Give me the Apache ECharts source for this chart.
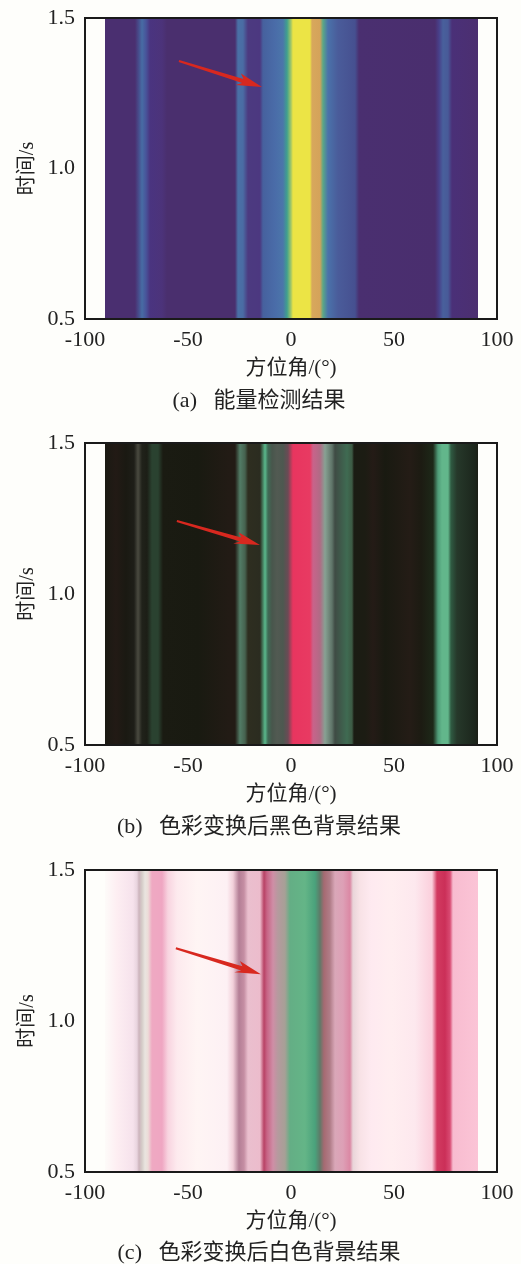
<!DOCTYPE html>
<html><head><meta charset="utf-8">
<style>html,body{margin:0;padding:0;background:#fefefb}#c{width:521px;height:1264px}</style>
<script src="https://cdn.jsdelivr.net/npm/echarts@6/dist/echarts.min.js"></script>
</head><body><div id="c"></div>
<script>
const xTicks = [-100, -50, 0, 50, 100];
const yTicks = [0.5, 1.0, 1.5];
const timeRange = [0.5, 1.5];
const xTitle = '方位角/(°)';
const yTitle = '时间/s';
const captions = ['(a)   能量检测结果', '(b)   色彩变换后黑色背景结果', '(c)   色彩变换后白色背景结果'];

const azimuthA = [-90.3,-75.7,-74,-72.5,-70.5,-68.4,-62.8,-60,-27.2,-25.5,-23.5,-20.9,-15,-13.6,-8,-3.9,-2.1,-0.1,1,9.2,10,14,15.5,18,22.8,31,33,70,72,73.8,76,78,90.6];
const azimuthB = [-90.3,-85,-80,-76,-74.1,-72.5,-70,-67.5,-64.6,-62,-45,-30,-27,-24.7,-22.3,-21,-15,-12.6,-11.2,-9,-7,-3.9,-1.4,1,9.2,10.7,14,16.6,19.7,21.3,27,29.5,30.6,36,40,45.6,58,63,69,71.5,73.3,76.2,77.8,80.5,89.3,90.6];
const azimuthC = [-90.3,-84.6,-76.5,-74.6,-73.6,-72.5,-70.8,-69.3,-67.6,-62.8,-59.5,-55.5,-45.8,-31.2,-28,-25.2,-22.8,-20.8,-15,-13,-11.5,-8.7,-6.3,-3,-0.5,6.8,11.6,14,16,19,21.3,25.2,28.6,30.2,33.5,39,49,60,68.3,71,74.9,77.3,78.8,90.2,90.6];

const paletteA = ['#4a2f70','#4a2f70','#47508f','#476ca4','#48549a','#4a3480','#4c337a','#4a2f6e','#4a2f6e','#4a70a6','#4a6ca4','#4c3a80','#4c3880','#46619e','#4a6ca8','#4b76aa','#3fa08e','#a4c866','#ece445','#ece445','#d8a85c','#d4a35a','#5aa886','#4a72aa','#4a5c9a','#465090','#4a2f70','#4a2e6e','#48408a','#48609c','#485a98','#4a3078','#4c2f70'];
const paletteB = ['#1a1912','#221a15','#1a1912','#1e1e18','#4a4a40','#20221a','#1c1e16','#2a4230','#2a4230','#1a1b12','#191a11','#221b15','#221b15','#527c66','#46624f','#2e2e20','#2b2c20','#5ab98c','#3f6b55','#48564c','#525a52','#4d5850','#6b4b55','#e8355f','#e83a62','#c9638a','#b06b85','#87a193','#5f7468','#3f4b44','#3f6b52','#3d5a44','#1b1c13','#1c1c13','#241b16','#191a11','#241c16','#1c1b12','#1d2818','#4f9c78','#62b68b','#62b68b','#2f5a42','#26382a','#1c261c','#1c1e16'];
const paletteC = ['#fdfbf9','#fdeef2','#f6e2ec','#e8d4de','#cdb4bd','#d5ccc8','#e9e4df','#ecdcd8','#efa9c2','#efa6c2','#f8d4e0','#fdeaee','#fff5f4','#fdf0f4','#f2d0da','#b47f96','#c58ea3','#eabfce','#ecbccc','#b84265','#c76485','#cf8ea6','#b59a9e','#a6a096','#64ae85','#64b587','#4aa27c','#5f7a68','#a56a72','#b07d88','#d9a7b8','#dda0b6','#db88a4','#e9d5d9','#f8e2e6','#feeaf0','#ffeef0','#fde8ee','#fbcfdc','#d23a60','#cb2f58','#d84a72','#f8bcd0','#fbc4d6','#fbc4d6'];

const arrowA = [[-54.4, 1.357], [-14.1, 1.271]];
const arrowB = [[-55.4, 1.242], [-15.1, 1.162]];
const arrowC = [[-55.9, 1.241], [-14.6, 1.155]];

const panels = [
  {az: azimuthA, pal: paletteA, arrow: arrowA, top: 18, height: 301, capTop: 385, capSize: 22},
  {az: azimuthB, pal: paletteB, arrow: arrowB, top: 443, height: 302, capTop: 811, capSize: 22},
  {az: azimuthC, pal: paletteC, arrow: arrowC, top: 870, height: 302, capTop: 1237, capSize: 22}
];
const FONT = '"Liberation Serif","Noto Sans CJK SC",serif';
const INK = '#222';

function bandSeries(p, i) {
  const segs = p.az.slice(0, -1).map((a, k) => [a, p.az[k + 1], k]);
  return {
    type: 'custom', xAxisIndex: i, yAxisIndex: i, silent: true, clip: false, z: 2,
    data: segs,
    encode: {x: [0, 1]},
    renderItem(params, api) {
      const k = api.value(2);
      const a = api.coord([api.value(0), timeRange[1]]);
      const b = api.coord([api.value(1), timeRange[0]]);
      const x0 = Math.round(a[0]), x1 = Math.round(b[0]);
      return {
        type: 'rect',
        shape: {x: x0, y: a[1], width: Math.max(x1 - x0, 0), height: b[1] - a[1]},
        style: {fill: new echarts.graphic.LinearGradient(0, 0, 1, 0, [
          {offset: 0, color: p.pal[k]}, {offset: 1, color: p.pal[k + 1]}
        ])}
      };
    }
  };
}
function arrowSeries(p, i) {
  return {
    type: 'custom', xAxisIndex: i, yAxisIndex: i, silent: true, z: 4,
    data: [[p.arrow[0][0], p.arrow[0][1], p.arrow[1][0], p.arrow[1][1]]],
    encode: {x: [0, 2], y: [1, 3]},
    renderItem(params, api) {
      const s = api.coord([api.value(0), api.value(1)]);
      const e = api.coord([api.value(2), api.value(3)]);
      const dx = e[0] - s[0], dy = e[1] - s[1], L = Math.hypot(dx, dy);
      const ux = dx / L, uy = dy / L, nx = -uy, ny = ux;
      const pt = (along, side) => [s[0] + ux * along + nx * side, s[1] + uy * along + ny * side];
      return {
        type: 'polygon',
        shape: {points: [
          pt(0, -1), pt(L - 20, -2.2), pt(L - 24, -6.5), e,
          pt(L - 26, 6), pt(L - 20, 2.2), pt(0, 1)
        ]},
        style: {fill: '#d8281f'}
      };
    }
  };
}
const option = {
  animation: false,
  backgroundColor: '#fefefb',
  title: panels.map((p, i) => ({
    text: captions[i], left: 254, top: p.capTop, textAlign: 'center',
    textStyle: {fontFamily: FONT, fontSize: p.capSize, fontWeight: 'normal', color: INK}
  })),
  grid: panels.map(p => ({left: 85, width: 412, top: p.top, height: p.height, show: true, z: 5,
    outerBoundsMode: 'none',
    borderColor: '#1a1a1a', borderWidth: 2, backgroundColor: 'transparent', containLabel: false})),
  xAxis: panels.map((p, i) => ({
    type: 'value', gridIndex: i, min: xTicks[0], max: xTicks[xTicks.length - 1], interval: xTicks[1] - xTicks[0],
    name: xTitle, nameLocation: 'middle', nameGap: 39, nameMoveOverlap: false,
    nameTextStyle: {fontFamily: FONT, fontSize: 21, color: INK},
    axisLine: {show: false}, axisTick: {show: false}, splitLine: {show: false},
    axisLabel: {fontFamily: FONT, fontSize: 22, color: INK, margin: 10, hideOverlap: false,
      showMinLabel: true, showMaxLabel: true, alignMinLabel: 'center', alignMaxLabel: 'center'}
  })),
  yAxis: panels.map((p, i) => ({
    type: 'value', gridIndex: i, min: yTicks[0], max: yTicks[yTicks.length - 1], interval: yTicks[1] - yTicks[0],
    name: yTitle, nameLocation: 'middle', nameGap: 47, nameMoveOverlap: false,
    nameTextStyle: {fontFamily: FONT, fontSize: 20, color: INK},
    axisLine: {show: false}, axisTick: {show: false}, splitLine: {show: false},
    axisLabel: {fontFamily: FONT, fontSize: 22, color: INK, margin: 10,
      showMinLabel: true, showMaxLabel: true, verticalAlignMinLabel: 'middle', verticalAlignMaxLabel: 'middle',
      formatter: v => v.toFixed(1)}
  })),
  series: panels.flatMap((p, i) => [bandSeries(p, i), arrowSeries(p, i)])
};
const chart = echarts.init(document.getElementById('c'), null, {renderer: 'canvas'});
chart.setOption(option);
</script></body></html>
